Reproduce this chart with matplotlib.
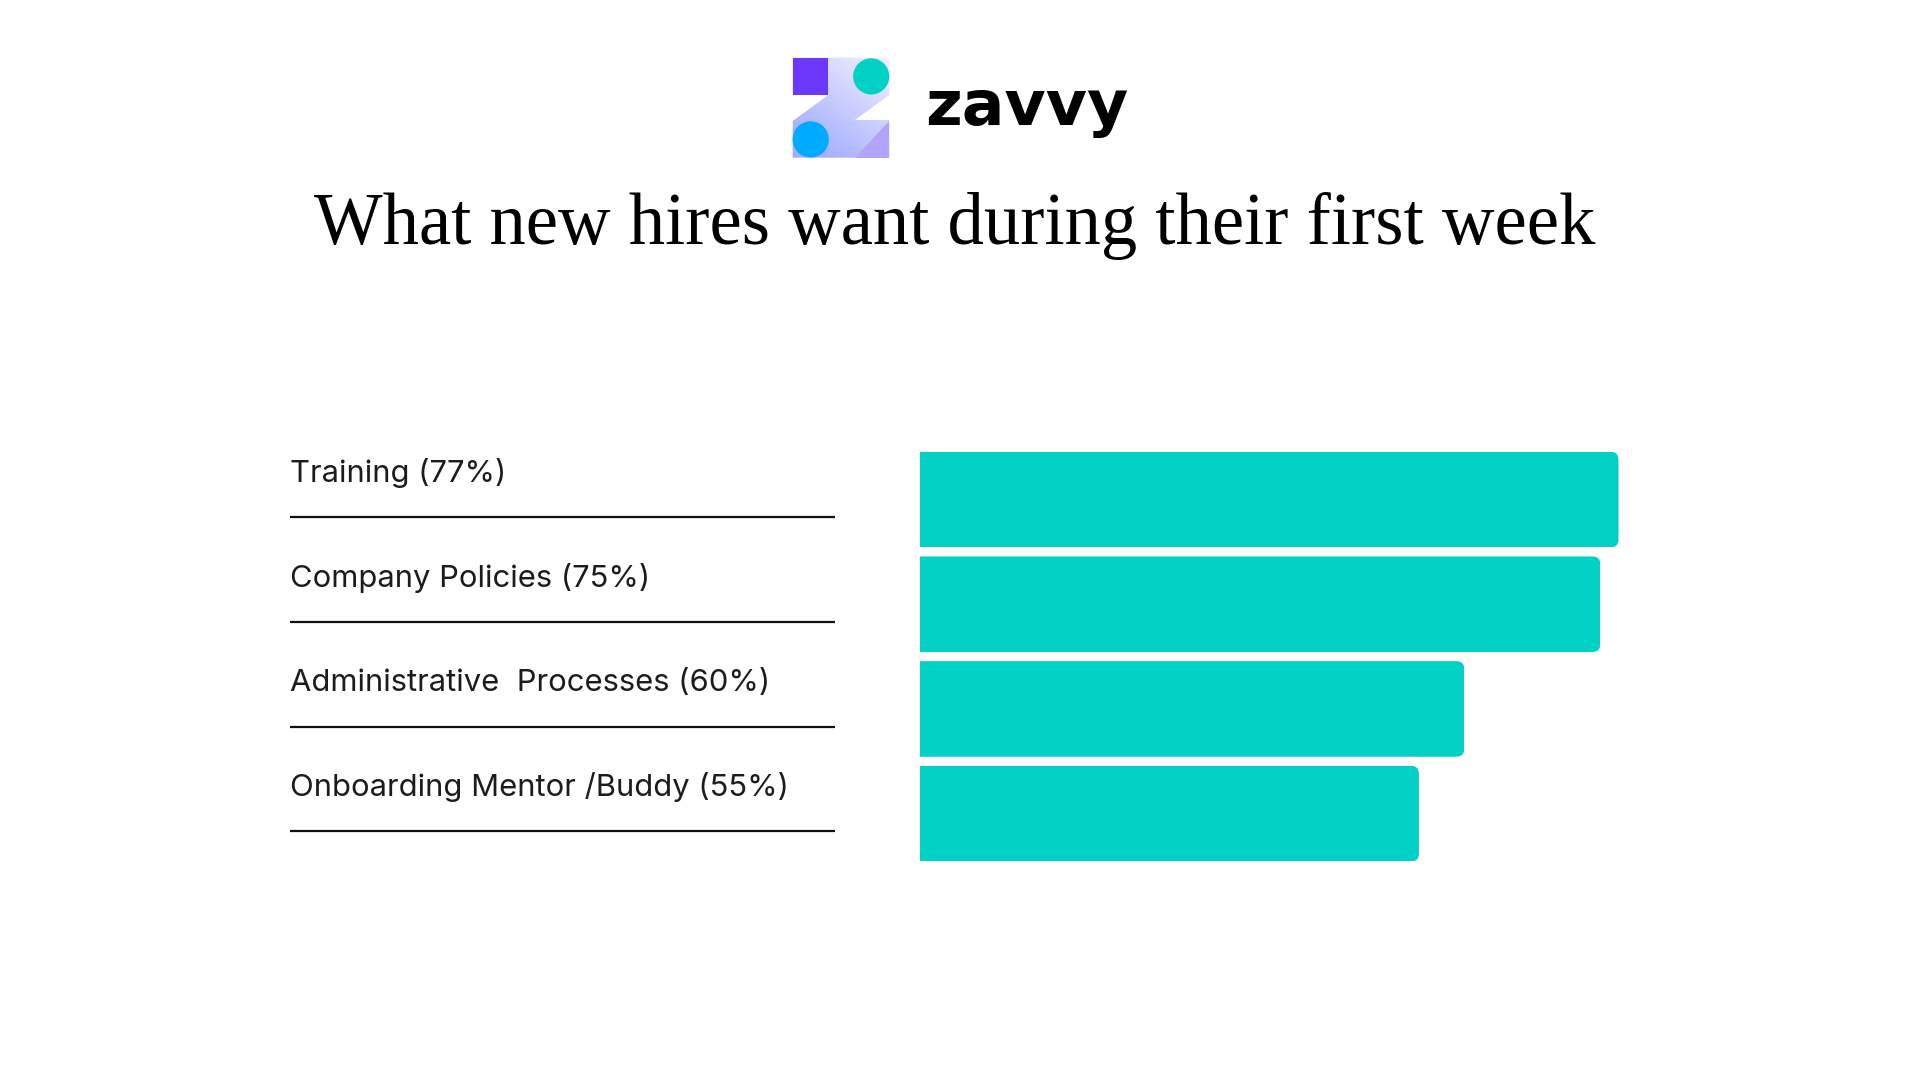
import numpy as np
import matplotlib.pyplot as plt
from matplotlib.patches import Rectangle, Circle, Polygon, FancyBboxPatch

# data
categories = ["Training", "Company Policies", "Administrative  Processes", "Onboarding Mentor /Buddy"]
shares = [77, 75, 60, 55]

title = "What new hires want during their first week"
bar_color = "#03D1C5"
text_color = "#1c1c1c"

fig = plt.figure(figsize=(19.2, 10.8), dpi=100)
fig.patch.set_facecolor("white")

# -----------------------------
# Logo
# -----------------------------
logo = fig.add_axes([792 / 1920, 1 - 158 / 1080, 98 / 1920, 101 / 1080])
logo.set_xlim(792, 890)
logo.set_ylim(158, 57)
logo.axis("off")

z_shape = Polygon([(792.7, 57.7), (889.3, 57.7), (889.3, 95), (855, 120), (889.3, 120),
                   (889.3, 157.7), (792.7, 157.7), (792.7, 121), (828.3, 95), (792.7, 95)],
                  closed=True, facecolor="none", edgecolor="none")
logo.add_patch(z_shape)
gx, gy = np.meshgrid(np.linspace(792, 890, 200), np.linspace(57, 158, 200))
t = ((889 - gx) * 0.6 + (gy - 57) * 0.8) / 120
t = np.clip(t, 0, 1)
light = np.array([0.96, 0.95, 1.0])
dark = np.array([0.64, 0.68, 1.0])
grad = light[None, None, :] * (1 - t[..., None]) + dark[None, None, :] * t[..., None]
img = logo.imshow(grad, extent=(792, 890, 158, 57), origin="upper", aspect="auto", zorder=1)
img.set_clip_path(z_shape)

logo.add_patch(Rectangle((792.7, 57.7), 35.6, 37.3, facecolor="#6B38FB", zorder=2))
logo.add_patch(Circle((871.2, 76.4), 18.1, facecolor=bar_color, zorder=2))
logo.add_patch(Circle((810.7, 139.4), 18.1, facecolor="#00AAFF", zorder=2))
logo.add_patch(Polygon([(889.3, 121), (889.3, 157.7), (855, 157.7)], closed=True,
                       facecolor="#B3A3FA", zorder=2))

fig.text(925 / 1920, 1 - 125 / 1080, "zavvy", ha="left", va="baseline",
         family="DejaVu Sans", fontweight="bold", fontsize=45.5, color="black")

# -----------------------------
# Title
# -----------------------------
fig.text(954.7 / 1920, 1 - 244 / 1080, title, ha="center", va="baseline",
         family="Liberation Serif", fontsize=52.3, color="black")

# -----------------------------
# Bars
# -----------------------------
y = np.arange(len(categories))
ax_bottom = 1 - 866 / 1080
ax_height = 418.8 / 1080

ax = fig.add_axes([920 / 1920, ax_bottom, 907.2 / 1920, ax_height])
bars = ax.barh(y, shares, height=0.913, color=bar_color)
ax.set_xlim(0, 100)
ax.set_ylim(3.5, -0.5)
ax.axis("off")

# round the right-hand corners only
for b in bars:
    x0, y0 = b.get_x(), b.get_y()
    w, h = b.get_width(), b.get_height()
    clip = FancyBboxPatch((x0 - 3, y0), w + 3, h,
                          boxstyle="round,pad=0,rounding_size=0.88",
                          mutation_aspect=0.0868, transform=ax.transData,
                          facecolor="none", edgecolor="none")
    b.set_clip_path(clip)

# -----------------------------
# Labels with underlines
# -----------------------------
lab = fig.add_axes([290 / 1920, ax_bottom, 545 / 1920, ax_height])
lab.set_xlim(0, 1)
lab.set_ylim(3.5, -0.5)
lab.axis("off")
lab.hlines(y + 0.17, 0, 1, color="#111111", linewidth=1.6)
for i, (name, v) in enumerate(zip(categories, shares)):
    lab.text(0, i - 0.168, f"{name} ({v}%)", ha="left", va="baseline",
             family="Inter", fontsize=22.3, color=text_color)

plt.savefig("out.png", dpi=100)
